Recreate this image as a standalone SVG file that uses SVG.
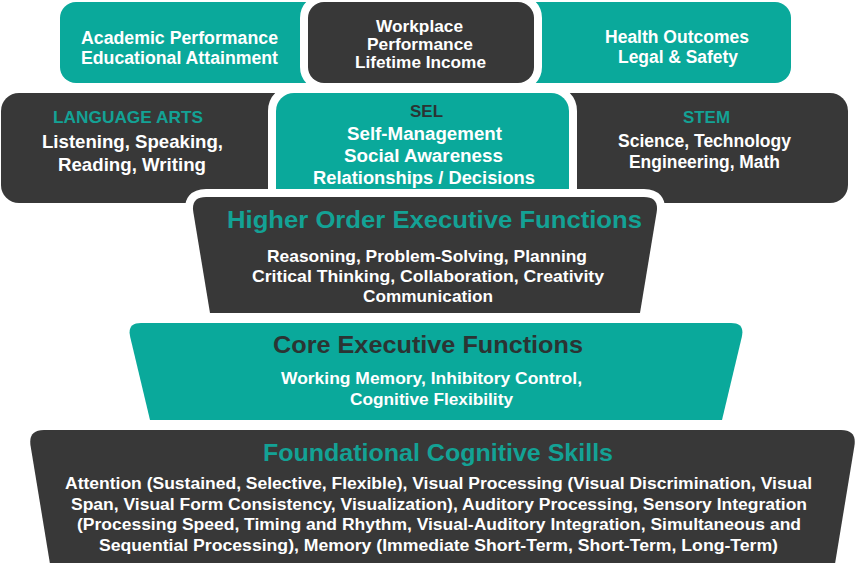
<svg xmlns="http://www.w3.org/2000/svg" width="856" height="563" viewBox="0 0 856 563">
<style>
.teal{fill:#0aa99b}
.dark{fill:#383838}
.bord{stroke:#fff;stroke-width:16;stroke-linejoin:round;paint-order:stroke fill}
text{font-family:"Liberation Sans",Arial,sans-serif;font-weight:bold;text-anchor:middle}
.w{fill:#ffffff}
.t{fill:#13a295}
.d{fill:#2b3433}
</style>
<rect width="856" height="563" fill="#fff"/>
<g id="academic">
<rect class="teal" x="60" y="2" width="280" height="81" rx="16"/>
<text class="w" x="179.5" y="43.5" font-size="17.5" textLength="197" lengthAdjust="spacingAndGlyphs">Academic Performance</text>
<text class="w" x="179.5" y="63.5" font-size="17.5" textLength="197" lengthAdjust="spacingAndGlyphs">Educational Attainment</text>
</g>
<g id="health">
<rect class="teal" x="500" y="2" width="291" height="81" rx="16"/>
<text class="w" x="677" y="43" font-size="17.5" textLength="144" lengthAdjust="spacingAndGlyphs">Health Outcomes</text>
<text class="w" x="678" y="63" font-size="17.5" textLength="120" lengthAdjust="spacingAndGlyphs">Legal &amp; Safety</text>
</g>
<g id="workplace">
<rect class="dark bord" x="308" y="2" width="226" height="81" rx="16"/>
<text class="w" x="419.5" y="32" font-size="16.5" textLength="87" lengthAdjust="spacingAndGlyphs">Workplace</text>
<text class="w" x="420" y="50" font-size="16.5" textLength="106" lengthAdjust="spacingAndGlyphs">Performance</text>
<text class="w" x="420.5" y="68" font-size="16.5" textLength="131" lengthAdjust="spacingAndGlyphs">Lifetime Income</text>
</g>
<g id="language-arts">
<rect class="dark" x="1" y="93" width="300" height="110" rx="18"/>
<text class="t" x="128" y="123" font-size="17" textLength="150" lengthAdjust="spacingAndGlyphs">LANGUAGE ARTS</text>
<text class="w" x="132.5" y="148" font-size="18.5" textLength="181" lengthAdjust="spacingAndGlyphs">Listening, Speaking,</text>
<text class="w" x="132" y="170.5" font-size="18.5" textLength="148" lengthAdjust="spacingAndGlyphs">Reading, Writing</text>
</g>
<g id="stem">
<rect class="dark" x="550" y="93" width="298" height="110" rx="18"/>
<text class="t" x="706.5" y="123" font-size="16.5" textLength="47" lengthAdjust="spacingAndGlyphs">STEM</text>
<text class="w" x="704.5" y="147" font-size="17.5" textLength="173" lengthAdjust="spacingAndGlyphs">Science, Technology</text>
<text class="w" x="704.5" y="168" font-size="17.5" textLength="151" lengthAdjust="spacingAndGlyphs">Engineering, Math</text>
</g>
<g id="sel">
<rect class="teal bord" x="276" y="93" width="293" height="115" rx="18"/>
<text class="d" x="426.5" y="117" font-size="16" textLength="33" lengthAdjust="spacingAndGlyphs">SEL</text>
<text class="w" x="424.5" y="139.5" font-size="17.5" textLength="155" lengthAdjust="spacingAndGlyphs">Self-Management</text>
<text class="w" x="423.5" y="161.5" font-size="17.5" textLength="159" lengthAdjust="spacingAndGlyphs">Social Awareness</text>
<text class="w" x="424" y="183.5" font-size="17.5" textLength="222" lengthAdjust="spacingAndGlyphs">Relationships / Decisions</text>
</g>
<g id="higher-order">
<path class="dark bord" d="M210,313 L193.3,212 Q191,197 206,197 L644,197 Q659,197 656.7,212 L640,313 Z"/>
<text class="t" x="434.5" y="228" font-size="24" textLength="415" lengthAdjust="spacingAndGlyphs">Higher Order Executive Functions</text>
<text class="w" x="427" y="262" font-size="17" textLength="320" lengthAdjust="spacingAndGlyphs">Reasoning, Problem-Solving, Planning</text>
<text class="w" x="428" y="281.5" font-size="17" textLength="352" lengthAdjust="spacingAndGlyphs">Critical Thinking, Collaboration, Creativity</text>
<text class="w" x="428" y="301.5" font-size="17" textLength="130" lengthAdjust="spacingAndGlyphs">Communication</text>
</g>
<g id="core">
<path class="teal" d="M150,420 L130.2,337 Q127,323 141,323 L731,323 Q745,323 741.8,337 L722,420 Z"/>
<text class="d" x="428" y="353" font-size="24.5" textLength="310" lengthAdjust="spacingAndGlyphs">Core Executive Functions</text>
<text class="w" x="431.5" y="384" font-size="16.5" textLength="301" lengthAdjust="spacingAndGlyphs">Working Memory, Inhibitory Control,</text>
<text class="w" x="431.5" y="405" font-size="16.5" textLength="163" lengthAdjust="spacingAndGlyphs">Cognitive Flexibility</text>
</g>
<g id="foundational">
<path class="dark" d="M51,570 L30.6,446 Q28,430 44,430 L841,430 Q857,430 854.4,446 L834,570 Z"/>
<text class="t" x="438" y="461" font-size="24.5" textLength="350" lengthAdjust="spacingAndGlyphs">Foundational Cognitive Skills</text>
<text class="w" x="438.5" y="489" font-size="16" textLength="747" lengthAdjust="spacingAndGlyphs">Attention (Sustained, Selective, Flexible), Visual Processing (Visual Discrimination, Visual</text>
<text class="w" x="439" y="510" font-size="16" textLength="736" lengthAdjust="spacingAndGlyphs">Span, Visual Form Consistency, Visualization), Auditory Processing, Sensory Integration</text>
<text class="w" x="439" y="530" font-size="16" textLength="724" lengthAdjust="spacingAndGlyphs">(Processing Speed, Timing and Rhythm, Visual-Auditory Integration, Simultaneous and</text>
<text class="w" x="438.5" y="551" font-size="16" textLength="679" lengthAdjust="spacingAndGlyphs">Sequential Processing), Memory (Immediate Short-Term, Short-Term, Long-Term)</text>
</g>
<g id="connectors"></g>
</svg>
